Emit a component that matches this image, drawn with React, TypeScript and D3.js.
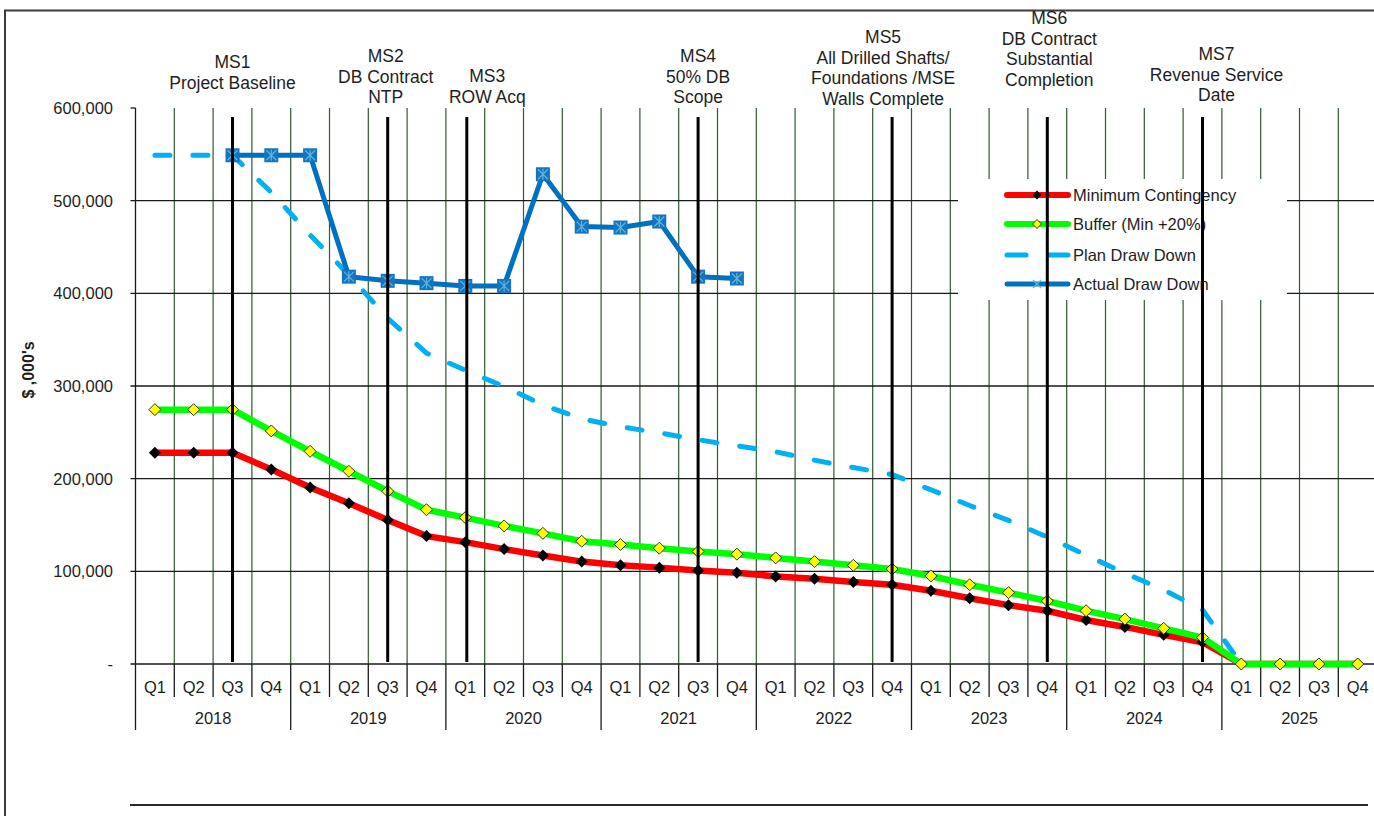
import React from 'react';
import * as d3 from 'd3';

const years = ['2018', '2019', '2020', '2021', '2022', '2023', '2024', '2025'];
const quarters = ['Q1', 'Q2', 'Q3', 'Q4'];
const categories = years.flatMap((yr) => quarters.map((q) => `${yr} ${q}`));

const yTicks = [0, 100000, 200000, 300000, 400000, 500000, 600000];

const minContingency = [
  228000, 228000, 228000, 210000, 190500, 173500, 155500, 138000,
  131500, 124000, 117000, 110500, 106500, 104000, 101000, 98500,
  94500, 92000, 88500, 85500, 79000, 71000, 63500, 57500,
  47500, 40000, 31500, 23500, 0, 0, 0, 0,
];

const bufferMin20 = [
  274500, 274500, 274500, 251500, 229500, 208000, 186500, 166500,
  158000, 149000, 141000, 132500, 129000, 125000, 121500, 118500,
  114500, 110500, 106500, 102500, 95000, 85500, 77000, 68000,
  57500, 48500, 38500, 28500, 0, 0, 0, 0,
];

const planDrawDown = [
  549000, 549000, 549000, 509000, 463000, 420000, 373000, 335500,
  317000, 299500, 279500, 264500, 256000, 249500, 242000, 235500,
  229000, 220000, 212000, 204500, 188000, 171000, 155000, 137000,
  117500, 98000, 80000, 58500, 0, 0, 0, 0,
];

const actualDrawDown: (number | null)[] = [
  null, null, 549000, 549000, 549000, 418000, 413500, 411000,
  408000, 408000, 528500, 472000, 471000, 477500, 418000, 416000,
  null, null, null, null, null, null, null, null,
  null, null, null, null, null, null, null, null,
];

const milestoneNames = ['MS1', 'MS2', 'MS3', 'MS4', 'MS5', 'MS6', 'MS7'];
const milestoneQuarter = ['2018 Q3', '2019 Q3', '2020 Q1', '2021 Q3', '2022 Q4', '2023 Q4', '2024 Q4'];
const milestoneText = [
  ['MS1', 'Project Baseline'],
  ['MS2', 'DB Contract', 'NTP'],
  ['MS3', 'ROW Acq'],
  ['MS4', '50% DB', 'Scope'],
  ['MS5', 'All Drilled Shafts/', 'Foundations /MSE', 'Walls Complete'],
  ['MS6', 'DB Contract', 'Substantial', 'Completion'],
  ['MS7', 'Revenue Service', 'Date'],
];

const legendLabels = ['Minimum Contingency', 'Buffer (Min +20%)', 'Plan Draw Down', 'Actual Draw Down'];

// layout (not data)
const labelFirstY = [62, 56, 76, 56, 37, 18, 54];
const labelDx = [0, -2, 22, 0, -9, 2, 14];

const FONT = '"Liberation Sans", Arial, Helvetica, sans-serif';
const TXT = '#1e1e1e';

const diamond = (r: number) => `M0,${-r}L${r},0L0,${r}L${-r},0Z`;

function ActualMarker({ x, y }: { x: number; y: number }) {
  const s = 7;
  return (
    <g transform={`translate(${x},${y})`}>
      <rect x={-s} y={-s} width={2 * s} height={2 * s} fill="#1474C2" />
      <path d={`M${-s + 2},${-s + 2}L${s - 2},${s - 2}M${-s + 2},${s - 2}L${s - 2},${-s + 2}M0,${-s + 1.5}L0,${s - 1.5}`} stroke="#5FB6DA" strokeWidth={1.2} />
    </g>
  );
}

export default function App() {
  const W = 1374;
  const H = 816;
  const x0 = 135.5;
  const bw = 38.8;
  const xBand = d3.scaleBand<string>().domain(categories).range([x0, x0 + bw * categories.length]).padding(0);
  const y = d3.scaleLinear().domain([0, 600000]).range([664, 108]);
  const cx = (c: string) => (xBand(c) as number) + xBand.bandwidth() / 2;
  const xRight = x0 + bw * categories.length;

  const line = d3
    .line<number | null>()
    .defined((d) => d != null)
    .x((_, i) => cx(categories[i]))
    .y((d) => y(d as number));

  const legend = { x: 958, y: 179, w: 329, h: 121 };
  const legRows = [195, 224, 255, 284];
  const lx1 = 1007, lx2 = 1068, lmx = 1037;

  return (
    <svg width={W} height={H} style={{ position: 'absolute', left: 0, top: 0, background: '#fff' }} fontFamily={FONT}>
      <rect x={0} y={0} width={W} height={H} fill="#fff" />
      {/* outer frame */}
      <rect x={5} y={10.5} width={1420} height={900} fill="none" stroke="#3c3c3c" strokeWidth={2} />

      {/* vertical green grid lines */}
      {categories.map((c, i) => {
        const xx = x0 + bw * (i + 1);
        return <line key={'vg' + i} x1={xx} x2={xx} y1={y(600000)} y2={y(0)} stroke="#2E5A2E" strokeWidth={1.2} />;
      })}
      {/* horizontal grid lines */}
      {yTicks.slice(0, -1).map((t) => (
        <line key={'hg' + t} x1={x0 - 5} x2={xRight} y1={y(t)} y2={y(t)} stroke="#1a1a1a" strokeWidth={1.3} />
      ))}
      <line x1={x0 - 5} x2={x0} y1={y(600000)} y2={y(600000)} stroke="#1a1a1a" strokeWidth={1.3} />
      {/* y axis */}
      <line x1={x0} x2={x0} y1={y(600000)} y2={y(0)} stroke="#1a1a1a" strokeWidth={1.3} />
      {yTicks.map((t) => (
        <text key={'yt' + t} x={113} y={y(t) + 6} textAnchor="end" fontSize={16.5} fill={TXT}>
          {t === 0 ? '-' : d3.format(',')(t)}
        </text>
      ))}
      <text transform={`translate(34,370) rotate(-90)`} textAnchor="middle" fontSize={16} fontWeight="bold" fill={TXT}>
        $ ,000's
      </text>

      {/* x axis: quarter separators and labels */}
      {categories.map((c, i) => {
        const xx = x0 + bw * i;
        const isYear = i % 4 === 0;
        return (
          <g key={'xq' + i}>
            <line x1={xx} x2={xx} y1={y(0)} y2={isYear ? 730 : 697} stroke="#1a1a1a" strokeWidth={1.3} />
            <text x={cx(c)} y={692.5} textAnchor="middle" fontSize={16.5} fill={TXT}>
              {quarters[i % 4]}
            </text>
          </g>
        );
      })}
      {years.map((yr, j) => (
        <text key={'yr' + yr} x={x0 + bw * (j * 4 + 2)} y={724} textAnchor="middle" fontSize={16.5} fill={TXT}>
          {yr}
        </text>
      ))}
      <line x1={130} x2={1368} y1={805} y2={805} stroke="#2a2a2a" strokeWidth={2} />

      {/* legend background */}
      <rect x={legend.x} y={legend.y} width={legend.w} height={legend.h} fill="#fff" />

      {/* series */}
      <path d={line(planDrawDown) || ''} fill="none" stroke="#00B0F0" strokeWidth={5} strokeDasharray="15 23" strokeLinecap="round" strokeLinejoin="round" />
      <path d={line(minContingency) || ''} fill="none" stroke="#FF0000" strokeWidth={6.5} strokeLinejoin="round" />
      {minContingency.map((v, i) => (
        <path key={'mm' + i} d={diamond(6)} transform={`translate(${cx(categories[i])},${y(v)})`} fill="#000" />
      ))}
      <path d={line(bufferMin20) || ''} fill="none" stroke="#00FF00" strokeWidth={6.5} strokeLinejoin="round" />
      {bufferMin20.map((v, i) => (
        <path key={'bm' + i} d={diamond(6)} transform={`translate(${cx(categories[i])},${y(v)})`} fill="#FFFF00" stroke="#333" strokeWidth={1} />
      ))}
      <path d={line(actualDrawDown) || ''} fill="none" stroke="#0070C0" strokeWidth={5} strokeLinejoin="round" />
      {actualDrawDown.map((v, i) =>
        v == null ? null : <ActualMarker key={'am' + i} x={cx(categories[i])} y={y(v)} />
      )}

      {/* legend items */}
      <line x1={lx1} x2={lx2} y1={legRows[0]} y2={legRows[0]} stroke="#FF0000" strokeWidth={6} strokeLinecap="round" />
      <path d={diamond(4.5)} transform={`translate(${lmx},${legRows[0]})`} fill="#000" />
      <line x1={lx1} x2={lx2} y1={legRows[1]} y2={legRows[1]} stroke="#00FF00" strokeWidth={6} strokeLinecap="round" />
      <path d={diamond(4.5)} transform={`translate(${lmx},${legRows[1]})`} fill="#FFFF00" stroke="#333" strokeWidth={1} />
      <line x1={lx1} x2={lx1 + 19} y1={legRows[2]} y2={legRows[2]} stroke="#00B0F0" strokeWidth={5} strokeLinecap="round" />
      <line x1={lx2 - 19} x2={lx2} y1={legRows[2]} y2={legRows[2]} stroke="#00B0F0" strokeWidth={5} strokeLinecap="round" />
      <line x1={lx1} x2={lx2} y1={legRows[3]} y2={legRows[3]} stroke="#0070C0" strokeWidth={5} strokeLinecap="round" />
      <path d={`M${lmx - 4},${legRows[3] - 4}L${lmx + 4},${legRows[3] + 4}M${lmx - 4},${legRows[3] + 4}L${lmx + 4},${legRows[3] - 4}`} stroke="#5FB6DA" strokeWidth={1.3} />
      {legendLabels.map((l, i) => (
        <text key={'lg' + i} x={1073} y={legRows[i] + 6} fontSize={16.5} fill={TXT}>
          {l}
        </text>
      ))}

      {/* milestone lines */}
      {milestoneNames.map((m, i) => {
        const xx = cx(milestoneQuarter[i]) + (i === 2 ? 1.5 : 0);
        return <line key={'ml' + m} x1={xx} x2={xx} y1={117} y2={662} stroke="#000" strokeWidth={3} />;
      })}
      {/* milestone labels */}
      {milestoneNames.map((m, i) => {
        const xx = cx(milestoneQuarter[i]) + labelDx[i];
        return (
          <text key={'mt' + m} x={xx} y={labelFirstY[i] + 6} textAnchor="middle" fontSize={17.5} fill={TXT}>
            {milestoneText[i].map((t, k) => (
              <tspan key={k} x={xx} dy={k === 0 ? 0 : 20.5}>
                {t}
              </tspan>
            ))}
          </text>
        );
      })}
    </svg>
  );
}
